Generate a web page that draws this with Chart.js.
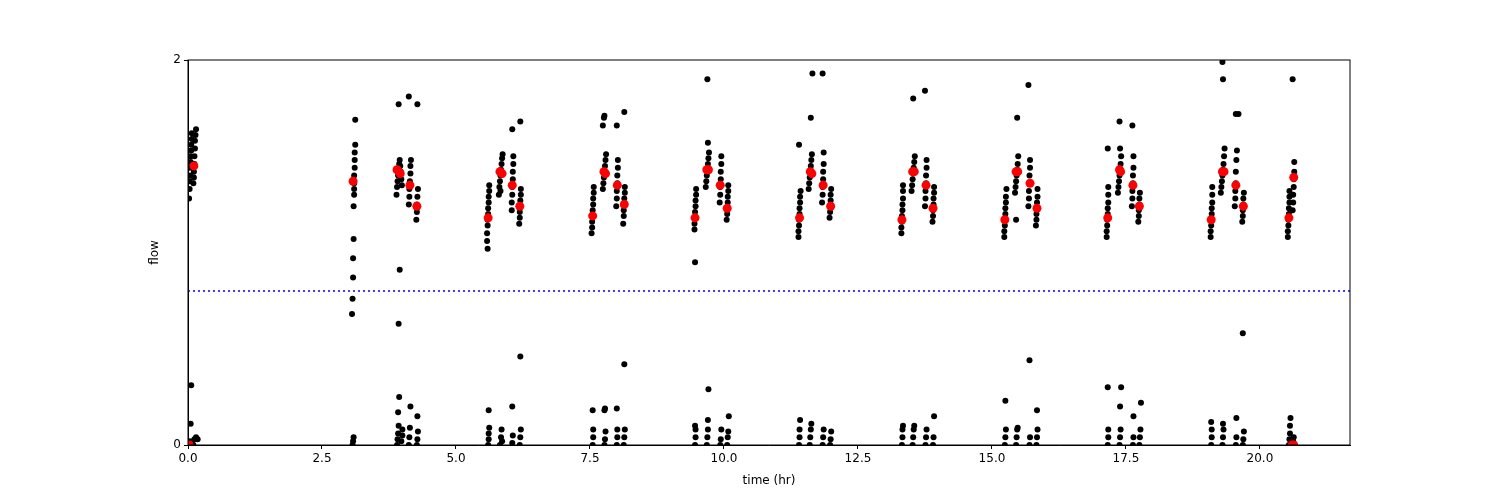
<!DOCTYPE html>
<html lang="en">
<head>
    <meta charset="UTF-8">
    <title>flow vs time</title>
    <script src="https://cdn.jsdelivr.net/npm/chart.js"></script>
    <style>
        body { margin: 0; background: #fff; }
        canvas { display: block; }
    </style>
</head>
<body>
    <canvas id="grafico" width="1500" height="500"></canvas>
    <script>
        // flow samples [time (hr), flow]
        const flowStart = [
            [0.02,1.28],[0.03,1.33],[0.03,1.37],[0.04,1.4],[0.04,1.44],[0.05,1.47],[0.05,1.5],[0.06,1.53],[0.06,1.56],[0.07,1.59],[0.07,1.62],
            [0.1,1.36],[0.11,1.39],[0.11,1.42],[0.12,1.46],[0.12,1.5],[0.13,1.54],[0.13,1.58],[0.14,1.61],[0.15,1.64],
            [0.01,0.0],[0.02,0.02],[0.04,0.0],[0.05,0.11],[0.06,0.31],[0.08,0.02],[0.1,0.0],[0.12,0.03],[0.15,0.04],[0.18,0.03]
        ];
        const flow3 = [
            [3.06,0.68],[3.07,0.76],[3.08,0.87],[3.08,0.97],[3.09,1.07],[3.09,1.24],[3.1,1.3],[3.1,1.33],[3.1,1.36],[3.1,1.4],[3.11,1.44],[3.11,1.48],[3.11,1.52],[3.12,1.56],[3.12,1.69],
            [3.07,0.0],[3.08,0.02],[3.09,0.04]
        ];
        const flow4 = [
            [3.89,1.3],[3.9,1.34],[3.91,1.37],[3.92,1.4],[3.93,1.43],[3.94,1.46],[3.95,1.48],[3.96,1.45],[3.97,1.42],[3.98,1.38],[3.99,1.35],[3.93,1.77],[3.93,0.63],[3.95,0.91],
            [4.12,1.25],[4.13,1.29],[4.13,1.33],[4.14,1.37],[4.15,1.41],[4.15,1.45],[4.16,1.48],[4.12,1.81],
            [4.26,1.17],[4.27,1.21],[4.27,1.25],[4.28,1.29],[4.29,1.33],[4.28,1.77],
            [3.9,0.0],[3.91,0.03],[3.92,0.06],[3.93,0.1],[3.92,0.17],[3.94,0.25],[3.98,0.02],[4.0,0.05],[4.0,0.08],
            [4.12,0.0],[4.13,0.04],[4.14,0.09],[4.15,0.2],[4.27,0.0],[4.28,0.03],[4.29,0.07],[4.28,0.15]
        ];
        const flowP1 = [
            [5.58,1.06],[5.58,1.1],[5.59,1.14],[5.59,1.17],[5.6,1.2],[5.6,1.23],[5.61,1.26],[5.61,1.29],[5.62,1.32],[5.62,1.35],[5.59,1.02],
            [5.8,1.3],[5.81,1.34],[5.82,1.37],[5.83,1.4],[5.84,1.43],[5.85,1.46],[5.86,1.49],[5.87,1.51],[5.83,1.32],
            [6.04,1.22],[6.04,1.26],[6.05,1.3],[6.05,1.34],[6.06,1.38],[6.06,1.42],[6.07,1.46],[6.07,1.5],[6.05,1.64],
            [6.18,1.15],[6.19,1.18],[6.19,1.21],[6.2,1.24],[6.2,1.27],[6.21,1.3],[6.21,1.33],[6.2,1.68],
            [5.6,0.0],[5.61,0.03],[5.61,0.06],[5.62,0.09],[5.61,0.18],[5.82,0.0],[5.84,0.04],[5.85,0.08],[5.86,0.02],
            [6.05,0.01],[6.06,0.05],[6.05,0.2],[6.19,0.0],[6.2,0.04],[6.21,0.08],[6.2,0.46]
        ];
        const flowP2 = [
            [7.53,1.1],[7.54,1.13],[7.54,1.16],[7.55,1.19],[7.55,1.22],[7.56,1.25],[7.56,1.28],[7.57,1.31],[7.57,1.34],
            [7.74,1.33],[7.75,1.36],[7.76,1.39],[7.77,1.42],[7.78,1.45],[7.79,1.48],[7.8,1.51],[7.76,1.7],[7.77,1.71],[7.74,1.66],
            [7.99,1.24],[8.0,1.28],[8.0,1.32],[8.01,1.36],[8.01,1.4],[8.02,1.44],[8.02,1.48],[8.0,1.66],
            [8.12,1.15],[8.13,1.19],[8.13,1.22],[8.14,1.25],[8.14,1.28],[8.15,1.31],[8.15,1.34],[8.14,1.73],
            [7.55,0.0],[7.56,0.04],[7.56,0.08],[7.55,0.18],[7.77,0.0],[7.78,0.03],[7.79,0.07],[7.77,0.18],[7.78,0.19],
            [8.0,0.0],[8.01,0.04],[8.01,0.08],[8.0,0.19],[8.13,0.0],[8.14,0.04],[8.15,0.08],[8.14,0.42]
        ];
        const flowP3 = [
            [9.45,1.12],[9.45,1.15],[9.46,1.18],[9.46,1.21],[9.47,1.24],[9.47,1.27],[9.48,1.3],[9.48,1.33],[9.46,0.95],
            [9.66,1.34],[9.67,1.37],[9.68,1.4],[9.69,1.43],[9.7,1.46],[9.71,1.49],[9.72,1.52],[9.7,1.57],[9.69,1.9],
            [9.92,1.26],[9.93,1.3],[9.93,1.34],[9.94,1.38],[9.94,1.42],[9.95,1.46],[9.95,1.5],
            [10.05,1.17],[10.06,1.2],[10.06,1.23],[10.07,1.26],[10.07,1.29],[10.08,1.32],[10.08,1.35],
            [9.46,0.0],[9.47,0.04],[9.47,0.08],[9.46,0.1],[9.68,0.0],[9.69,0.04],[9.7,0.08],[9.7,0.13],[9.71,0.29],
            [9.93,0.0],[9.94,0.03],[9.95,0.08],[10.06,0.0],[10.07,0.04],[10.08,0.07],[10.09,0.15]
        ];
        const flowP4 = [
            [11.39,1.08],[11.39,1.11],[11.4,1.14],[11.4,1.17],[11.41,1.2],[11.41,1.23],[11.42,1.26],[11.42,1.29],[11.43,1.32],[11.4,1.56],
            [11.58,1.33],[11.59,1.36],[11.6,1.39],[11.61,1.42],[11.62,1.45],[11.63,1.48],[11.64,1.51],[11.62,1.7],[11.65,1.93],
            [11.83,1.26],[11.84,1.3],[11.84,1.34],[11.85,1.38],[11.85,1.42],[11.86,1.46],[11.86,1.52],[11.84,1.93],
            [11.97,1.18],[11.98,1.21],[11.98,1.24],[11.99,1.27],[11.99,1.3],[12.0,1.33],
            [11.4,0.0],[11.41,0.04],[11.41,0.08],[11.42,0.13],[11.6,0.0],[11.61,0.04],[11.62,0.08],[11.63,0.11],
            [11.84,0.0],[11.85,0.04],[11.86,0.08],[11.98,0.0],[11.99,0.03],[12.0,0.07]
        ];
        const flowP5 = [
            [13.31,1.1],[13.31,1.13],[13.32,1.16],[13.32,1.19],[13.33,1.22],[13.33,1.25],[13.34,1.28],[13.34,1.32],[13.34,1.35],
            [13.5,1.32],[13.51,1.35],[13.52,1.38],[13.53,1.41],[13.54,1.44],[13.55,1.47],[13.56,1.5],[13.53,1.8],
            [13.75,1.24],[13.76,1.28],[13.76,1.32],[13.77,1.36],[13.77,1.4],[13.78,1.44],[13.78,1.48],[13.75,1.84],
            [13.89,1.16],[13.9,1.19],[13.9,1.22],[13.91,1.25],[13.91,1.28],[13.92,1.31],[13.92,1.34],
            [13.32,0.0],[13.33,0.04],[13.33,0.08],[13.34,0.1],[13.52,0.0],[13.53,0.04],[13.54,0.08],[13.55,0.1],
            [13.76,0.0],[13.77,0.04],[13.78,0.08],[13.9,0.0],[13.91,0.04],[13.92,0.15]
        ];
        const flowP6 = [
            [15.23,1.08],[15.23,1.11],[15.24,1.14],[15.24,1.17],[15.25,1.2],[15.25,1.23],[15.26,1.26],[15.26,1.29],[15.27,1.33],
            [15.43,1.31],[15.44,1.34],[15.45,1.37],[15.46,1.4],[15.47,1.43],[15.48,1.46],[15.49,1.5],[15.45,1.17],[15.47,1.7],
            [15.68,1.24],[15.69,1.28],[15.69,1.32],[15.7,1.36],[15.7,1.4],[15.71,1.44],[15.71,1.48],[15.68,1.87],
            [15.82,1.14],[15.83,1.17],[15.83,1.2],[15.84,1.23],[15.84,1.26],[15.85,1.29],[15.85,1.33],
            [15.24,0.0],[15.25,0.04],[15.26,0.08],[15.25,0.23],[15.45,0.0],[15.46,0.04],[15.47,0.08],[15.48,0.09],
            [15.7,0.0],[15.71,0.04],[15.7,0.44],[15.83,0.0],[15.84,0.04],[15.85,0.08],[15.84,0.18]
        ];
        const flowP7 = [
            [17.14,1.08],[17.14,1.11],[17.15,1.14],[17.15,1.17],[17.16,1.2],[17.16,1.23],[17.17,1.26],[17.17,1.3],[17.17,1.34],[17.16,1.54],
            [17.35,1.31],[17.36,1.34],[17.37,1.37],[17.38,1.4],[17.39,1.43],[17.4,1.46],[17.41,1.5],[17.39,1.54],[17.38,1.68],
            [17.61,1.24],[17.62,1.28],[17.62,1.32],[17.63,1.36],[17.63,1.4],[17.64,1.44],[17.64,1.5],[17.62,1.66],
            [17.73,1.16],[17.74,1.19],[17.74,1.22],[17.75,1.25],[17.75,1.28],[17.76,1.31],
            [17.16,0.0],[17.17,0.04],[17.17,0.08],[17.16,0.3],[17.38,0.0],[17.39,0.04],[17.4,0.08],[17.39,0.2],[17.41,0.3],
            [17.63,0.0],[17.64,0.04],[17.64,0.15],[17.75,0.0],[17.76,0.04],[17.77,0.08],[17.78,0.22]
        ];
        const flowP8 = [
            [19.08,1.08],[19.08,1.11],[19.09,1.14],[19.09,1.17],[19.1,1.2],[19.1,1.23],[19.11,1.26],[19.11,1.3],[19.11,1.34],
            [19.27,1.31],[19.28,1.34],[19.29,1.37],[19.3,1.4],[19.31,1.43],[19.32,1.46],[19.33,1.5],[19.34,1.54],[19.3,1.99],[19.31,1.9],
            [19.53,1.24],[19.54,1.28],[19.54,1.32],[19.55,1.36],[19.55,1.42],[19.56,1.48],[19.57,1.53],[19.55,1.72],[19.6,1.72],
            [19.67,1.16],[19.68,1.19],[19.68,1.22],[19.69,1.25],[19.69,1.28],[19.7,1.31],[19.68,0.58],
            [19.09,0.0],[19.1,0.04],[19.1,0.08],[19.09,0.12],[19.3,0.0],[19.31,0.04],[19.32,0.08],[19.31,0.11],
            [19.55,0.0],[19.56,0.04],[19.56,0.14],[19.68,0.0],[19.69,0.03],[19.7,0.07]
        ];
        const flowEnd = [
            [20.52,1.08],[20.52,1.11],[20.53,1.14],[20.53,1.17],[20.54,1.2],[20.54,1.23],[20.55,1.26],[20.55,1.29],[20.55,1.32],
            [20.61,1.22],[20.62,1.26],[20.62,1.3],[20.63,1.34],[20.63,1.38],[20.64,1.42],[20.64,1.47],[20.61,1.9],
            [20.54,0.0],[20.55,0.03],[20.56,0.06],[20.56,0.1],[20.57,0.14],[20.6,0.0],[20.62,0.02],[20.63,0.04]
        ];
        // mean flow per block [time, flow]
        const meanPoints = [
            [0.11,1.45],[3.08,1.37],[3.9,1.43],[3.96,1.41],[4.14,1.35],[4.27,1.24],
            [5.6,1.18],[5.82,1.42],[5.86,1.41],[6.05,1.35],[6.19,1.24],
            [7.55,1.19],[7.76,1.42],[7.79,1.41],[8.01,1.35],[8.14,1.25],
            [9.46,1.18],[9.68,1.43],[9.71,1.43],[9.93,1.35],[10.06,1.23],
            [11.41,1.18],[11.61,1.42],[11.64,1.41],[11.85,1.35],[11.99,1.24],
            [13.32,1.17],[13.52,1.42],[13.55,1.42],[13.77,1.35],[13.9,1.23],
            [15.24,1.17],[15.45,1.42],[15.48,1.42],[15.71,1.36],[15.84,1.23],
            [17.16,1.18],[17.38,1.43],[17.4,1.42],[17.63,1.35],[17.75,1.24],
            [19.09,1.17],[19.3,1.42],[19.33,1.42],[19.55,1.35],[19.69,1.24],
            [20.54,1.18],[20.63,1.39],[0.02,0.0],[20.6,0.0],[20.63,0.0]
        ];
        const limiar = 0.8;
        const tempoMax = 21.68;
        const ticksX = [0, 2.5, 5, 7.5, 10, 12.5, 15, 17.5, 20];

        const todosFluxos = [].concat(flowStart, flow3, flow4, flowP1, flowP2, flowP3, flowP4, flowP5, flowP6, flowP7, flowP8, flowEnd);
        const paraXY = arr => arr.map(p => ({ x: p[0], y: p[1] }));

        // moldura e titulos dos eixos
        const moldura = {
            id: 'moldura',
            afterDraw(chart) {
                const a = chart.chartArea, ctx = chart.ctx;
                ctx.save();
                ctx.strokeStyle = '#000';
                ctx.lineWidth = 1;
                ctx.strokeRect(a.left, a.top, a.right - a.left, a.bottom - a.top);
                ctx.fillStyle = '#000';
                ctx.font = '12px "DejaVu Sans"';
                ctx.textAlign = 'center';
                ctx.textBaseline = 'middle';
                ctx.fillText('time (hr)', (a.left + a.right) / 2, a.bottom + 36);
                ctx.translate(a.left - 33, (a.top + a.bottom) / 2);
                ctx.rotate(-Math.PI / 2);
                ctx.fillText('flow', 0, 0);
                ctx.restore();
            }
        };

        new Chart(document.getElementById('grafico').getContext('2d'), {
            type: 'scatter',
            data: {
                datasets: [
                    {
                        data: paraXY(meanPoints),
                        backgroundColor: '#ff0000',
                        borderWidth: 0,
                        pointRadius: 4.5
                    },
                    {
                        data: paraXY(todosFluxos),
                        backgroundColor: '#000000',
                        borderWidth: 0,
                        pointRadius: 3
                    },
                    {
                        type: 'line',
                        data: [{ x: 0, y: limiar }, { x: tempoMax, y: limiar }],
                        borderColor: '#0000ff',
                        borderWidth: 1.5,
                        borderDash: [2, 3],
                        pointRadius: 0
                    }
                ]
            },
            options: {
                responsive: false,
                animation: false,
                layout: { padding: { top: 60, right: 150, left: 0, bottom: 0 } },
                plugins: { legend: { display: false }, tooltip: { enabled: false } },
                scales: {
                    x: {
                        type: 'linear', min: 0, max: tempoMax,
                        afterBuildTicks: ax => { ax.ticks = ticksX.map(v => ({ value: v })); },
                        afterFit: ax => { ax.height = 55; },
                        grid: { drawOnChartArea: false, tickLength: 4, color: '#000' },
                        border: { color: '#000' },
                        ticks: { color: '#000', font: { family: 'DejaVu Sans', size: 12 }, callback: v => v.toFixed(1), maxRotation: 0, padding: 3 }
                    },
                    y: {
                        min: 0, max: 2,
                        afterBuildTicks: ax => { ax.ticks = [{ value: 0 }, { value: 2 }]; },
                        afterFit: ax => { ax.width = 188; },
                        grid: { drawOnChartArea: false, tickLength: 4, color: '#000' },
                        border: { color: '#000' },
                        ticks: { color: '#000', font: { family: 'DejaVu Sans', size: 12 }, padding: 3 }
                    }
                }
            },
            plugins: [moldura]
        });
    </script>
</body>
</html>
